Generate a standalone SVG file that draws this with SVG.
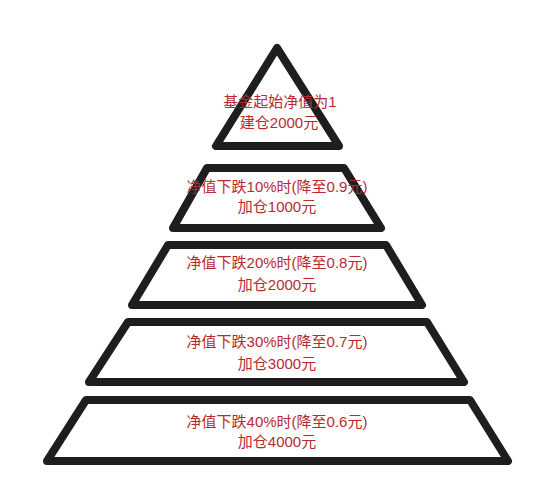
<svg xmlns="http://www.w3.org/2000/svg" width="554" height="501" viewBox="0 0 554 501">
<style>
.shape{fill:#fff;stroke:#1e1e1e;stroke-width:8;stroke-linejoin:round}
.lbl{font-family:"Liberation Sans","Noto Sans CJK SC",sans-serif;font-size:15px;fill:#b82a30;text-anchor:middle}
</style>
<rect width="554" height="501" fill="#fff"/>
<g id="level0">
<polygon class="shape" points="277,48 216,146 339,146"/>
<text class="lbl" x="280" y="107">基金起始净值为1</text>
<text class="lbl" x="279" y="128">建仓2000元</text>
</g>
<g id="level1">
<polygon class="shape" points="207,168 344,168 381,228 173,228"/>
<text class="lbl" x="277" y="192">净值下跌10%时(降至0.9元)</text>
<text class="lbl" x="277" y="212">加仓1000元</text>
</g>
<g id="level2">
<polygon class="shape" points="168,245 386,245 422,305 132,305"/>
<text class="lbl" x="277" y="268">净值下跌20%时(降至0.8元)</text>
<text class="lbl" x="277" y="290">加仓2000元</text>
</g>
<g id="level3">
<polygon class="shape" points="128,322 427,322 464,382 89,382"/>
<text class="lbl" x="277" y="347">净值下跌30%时(降至0.7元)</text>
<text class="lbl" x="277" y="369">加仓3000元</text>
</g>
<g id="level4">
<polygon class="shape" points="86,400 470,400 508,461 47,461"/>
<text class="lbl" x="277" y="427">净值下跌40%时(降至0.6元)</text>
<text class="lbl" x="277" y="447">加仓4000元</text>
</g>
<g id="connectors"></g>
</svg>
